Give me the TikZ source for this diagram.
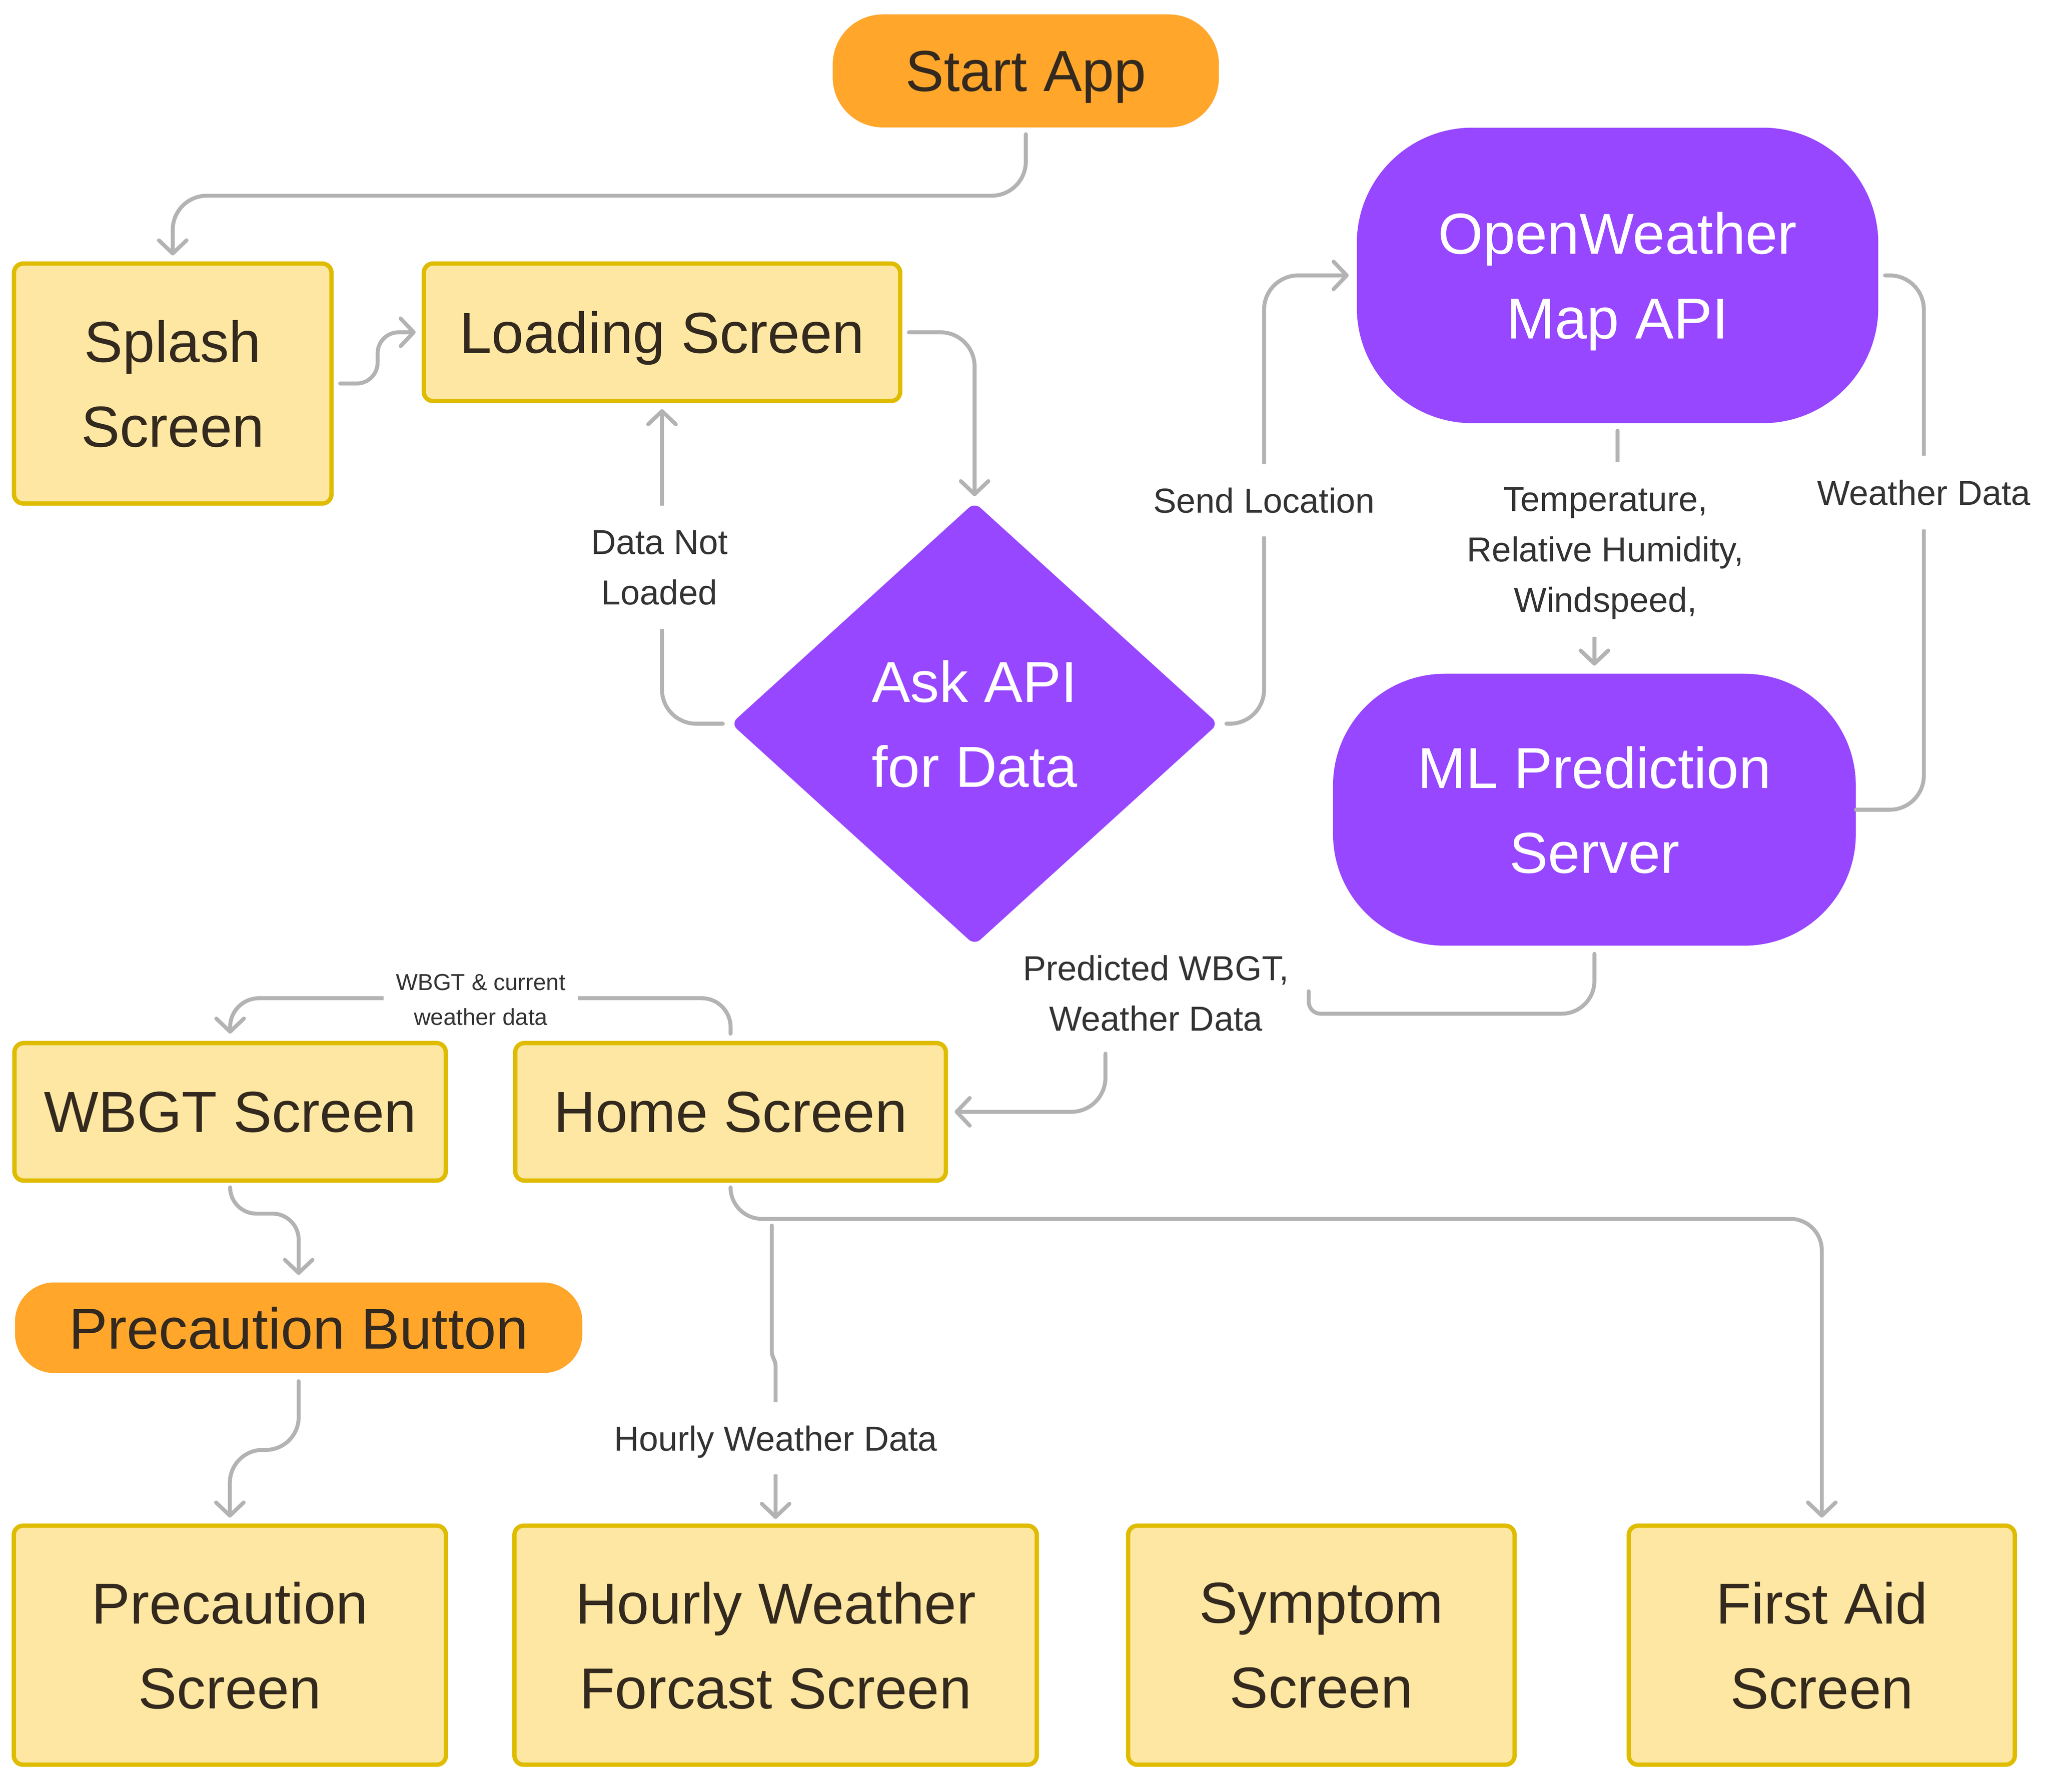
\documentclass[tikz,border=0pt]{standalone}
\usepackage{fontspec}
\setmainfont{Liberation Sans}
\usetikzlibrary{arrows.meta,shapes.geometric}
\definecolor{orng}{HTML}{FFA62B}
\definecolor{purp}{HTML}{9747FF}
\definecolor{ylfill}{HTML}{FDE7A2}
\definecolor{yldraw}{HTML}{DFBC00}
\definecolor{lngray}{HTML}{B3B3B3}
\definecolor{txtdark}{HTML}{33291E}
\definecolor{lbltxt}{HTML}{333333}
\begin{document}
\begin{tikzpicture}[x=1pt,y=-1pt,
  big/.style={font=\fontsize{44}{64.7}\selectfont, align=center, inner sep=0pt, text depth=0pt},
  screenbox/.style={big, draw=yldraw, fill=ylfill, line width=3.3pt, rounded corners=7pt, text=txtdark},
  startbox/.style={big, fill=orng, rounded corners=38pt, text=txtdark},
  apibox/.style={big, fill=purp, text=white},
  conn/.style={draw=lngray, line width=3pt, line cap=round, line join=round},
  arr/.style={conn, -{Straight Barb[length=10pt,width=21pt,round]}, shorten >=4.5pt},
  lbl/.style={font=\fontsize{26.4}{38.5}\selectfont, align=center, text=lbltxt, fill=white, inner xsep=5pt, inner ysep=0pt, text depth=0pt},
  smalllbl/.style={font=\fontsize{17.6}{26.6}\selectfont, align=center, text=lbltxt, fill=white, inner xsep=9.5pt, inner ysep=2pt, text depth=0pt},
]
\fill[white] (0,0) rectangle (1560,1364.2);
\useasboundingbox (0,0) rectangle (1560,1364.2);

% nodes
\node[startbox, minimum width=294pt, minimum height=86pt] (start) at (781,54) {Start App};
\node[screenbox, minimum width=241.7pt, minimum height=182.7pt] (splash) at (131.5,292) {Splash\\Screen};
\node[screenbox, minimum width=362.7pt, minimum height=104.7pt] (loading) at (504,253) {Loading Screen};
\node[apibox, diamond, aspect=1.1, minimum width=371pt, minimum height=337pt, rounded corners=6pt] (ask) at (742,551) {Ask API\\for Data};
\node[apibox, rounded corners=88pt, minimum width=397pt, minimum height=225pt] (owm) at (1231.5,209.7) {OpenWeather\\Map API};
\node[apibox, rounded corners=85pt, minimum width=398pt, minimum height=207pt] (ml) at (1213.9,616.5) {ML Prediction\\Server};
\node[screenbox, minimum width=328.4pt, minimum height=104.7pt] (wbgt) at (175.2,846.5) {WBGT Screen};
\node[screenbox, minimum width=327.9pt, minimum height=104.7pt] (home) at (556.2,846.5) {Home Screen};
\node[startbox, rounded corners=30pt, minimum width=432pt, minimum height=69pt] (pbtn) at (227.4,1010.9) {Precaution Button};
\node[screenbox, minimum width=329pt, minimum height=182pt] (pscreen) at (175,1252.6) {Precaution\\Screen};
\node[screenbox, minimum width=397.7pt, minimum height=182pt] (hourly) at (590.5,1252.6) {Hourly Weather\\Forcast Screen};
\node[screenbox, minimum width=294.2pt, minimum height=182pt] (symptom) at (1006,1252.6) {Symptom\\Screen};
\node[screenbox, minimum width=293.9pt, minimum height=182pt] (firstaid) at (1387,1252.6) {First Aid\\Screen};

% connectors
\draw[arr, rounded corners=26pt, shorten <=5pt] (start.south) -- (781,149) -- (131.5,149) -- (splash.north);
\draw[arr, rounded corners=16pt, shorten <=5pt] (splash.east) -- (287.5,292) -- (287.5,253) -- (loading.west);
\draw[arr, rounded corners=26pt, shorten <=5pt] (loading.east) -- (742,253) -- (ask.north);
\draw[arr, rounded corners=26pt, shorten <=6pt] (ask.west) -- (504,551) -- (loading.south);
\draw[arr, rounded corners=26pt, shorten <=6pt, shorten >=6pt] (ask.east) -- (962.4,551) -- (962.4,209.7) -- (owm.west);
\draw[arr, rounded corners=5pt, shorten <=5.5pt, shorten >=6pt] (owm.south) -- (1231.5,418) -- (1213.9,418) -- (ml.north);
\draw[conn, rounded corners=26pt, shorten <=5pt] (owm.east) -- (1464.7,209.7) -- (1464.7,616.5) -- (ml.east);
\draw[conn, rounded corners=25pt, shorten <=6pt] (ml.south) -- (1213.9,771.8) [rounded corners=9pt] -- (996.4,771.8) -- (996.4,754.7);
\coordinate (pwout) at (841.6,802.2);
\draw[arr, rounded corners=26pt, shorten >=5pt] (pwout) -- (841.6,846.5) -- (home.east);
\draw[arr, rounded corners=22pt, shorten <=5.5pt, shorten >=5.5pt] (home.north) -- (556.2,760) -- (175.2,760) -- (wbgt.north);
\draw[arr, rounded corners=20pt, shorten <=3.5pt, shorten >=5.5pt] (wbgt.south) -- (175.2,924) -- (227.4,924) -- (pbtn.north);
\draw[arr, rounded corners=25pt, shorten <=6pt] (pbtn.south) -- (227.4,1103.9) -- (175,1103.9) -- (pscreen.north);
\draw[arr, rounded corners=24pt, shorten <=4.5pt] (home.south) -- (556.2,928) -- (1387,928) -- (firstaid.north);
\coordinate (hwstart) at (587.6,933.1);
\draw[arr, rounded corners=3pt, shorten >=3.5pt] (hwstart) -- (587.6,1032) -- (590.5,1037) -- (hourly.north);

% connector labels
\node[lbl, minimum height=94pt] (dnllbl) at (502,432) {Data Not\\Loaded};
\node[lbl, minimum height=55pt] (sllbl) at (962.4,381) {Send Location};
\node[lbl, minimum height=133pt] (templbl) at (1222.3,418.5) {Temperature,\\Relative Humidity,\\Windspeed,};
\node[lbl, minimum height=56pt] (wdlbl) at (1464.7,375) {Weather Data};
\node[lbl, inner ysep=3pt] (pwlbl) at (880,756) {Predicted WBGT,\\Weather Data};
\node[smalllbl] (wclbl) at (366,761) {WBGT \& current\\weather data};
\node[lbl, minimum height=55pt] (hwlbl) at (590.5,1095) {Hourly Weather Data};
\end{tikzpicture}
\end{document}
